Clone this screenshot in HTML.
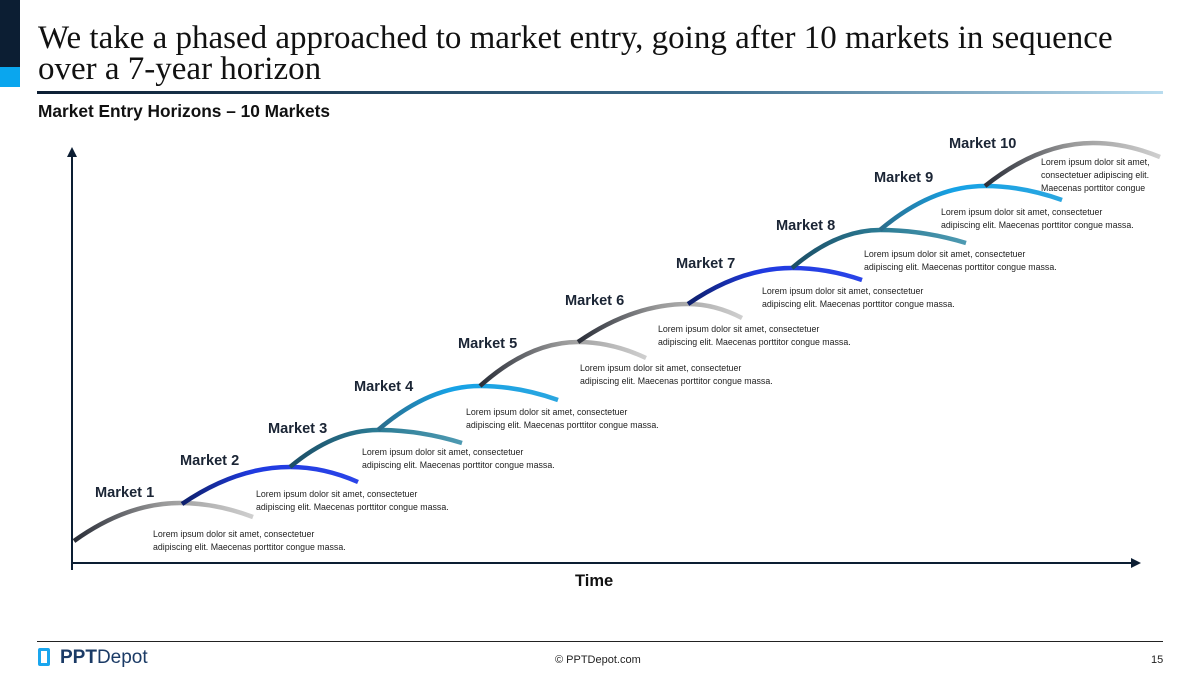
<!DOCTYPE html>
<html><head><meta charset="utf-8"><style>
body{margin:0;width:1200px;height:677px;background:#fff;overflow:hidden;font-family:"Liberation Sans",sans-serif;position:relative}
.t{position:absolute;left:38px;top:23px;font-family:"Liberation Serif",serif;font-size:33px;line-height:31px;color:#111;white-space:nowrap}
.sub{position:absolute;left:38px;top:101px;font-weight:bold;font-size:17.3px;color:#111}
.m{position:absolute;font-weight:bold;font-size:14.6px;color:#1b2535}
.d{position:absolute;font-size:8.8px;line-height:13px;color:#222;white-space:nowrap}
</style></head><body>
<div style="position:absolute;left:0;top:0;width:20px;height:67px;background:#0c1e33"></div>
<div style="position:absolute;left:0;top:67px;width:20px;height:20px;background:#0aa6ee"></div>
<div class="t">We take a phased approached to market entry, going after 10 markets in sequence<br>over a 7-year horizon</div>
<div style="position:absolute;left:37px;top:91px;width:1126px;height:3px;background:linear-gradient(90deg,#0c1e33,#3c6c8c 60%,#b9dcef)"></div>
<div class="sub">Market Entry Horizons – 10 Markets</div>
<svg style="position:absolute;left:0;top:0" width="1200" height="677">
<defs>
<linearGradient id="g" x1="0" x2="1"><stop offset="0" stop-color="#2a2e38"/><stop offset=".5" stop-color="#9a9a9a"/><stop offset="1" stop-color="#cfcfcf"/></linearGradient>
<linearGradient id="b" x1="0" x2="1"><stop offset="0" stop-color="#0d1f6a"/><stop offset=".4" stop-color="#1f3ae0"/><stop offset="1" stop-color="#2a44e8"/></linearGradient>
<linearGradient id="c" x1="0" x2="1"><stop offset="0" stop-color="#1b4e66"/><stop offset=".5" stop-color="#2b7b94"/><stop offset="1" stop-color="#4e9ab2"/></linearGradient>
<linearGradient id="l" x1="0" x2="1"><stop offset="0" stop-color="#2a6c8a"/><stop offset=".4" stop-color="#16a2e6"/><stop offset="1" stop-color="#2aa6e0"/></linearGradient>
<marker id="a" markerWidth="5" markerHeight="5" refX="2.5" refY="2.5" orient="auto"><path d="M0,0 L5,2.5 L0,5z" fill="#0c1e33"/></marker>
</defs>
<line x1="72" y1="570" x2="72" y2="152" stroke="#0c1e33" stroke-width="2" marker-end="url(#a)"/>
<line x1="72" y1="563" x2="1136" y2="563" stroke="#0c1e33" stroke-width="2" marker-end="url(#a)"/>
<g fill="none" stroke-width="4.5" stroke-linecap="butt">
<path d="M74,541 Q127,503 180,503 Q216,503 253,517" stroke="url(#g)"/>
<path d="M182,504 Q236,467 290,467 Q324,467 358,482" stroke="url(#b)"/>
<path d="M290,467 Q334,430 378,430 Q420,430 462,443" stroke="url(#c)"/>
<path d="M378,430 Q429,386 480,386 Q519,386 558,400" stroke="url(#l)"/>
<path d="M480,386 Q529,342 578,342 Q612,342 646,358" stroke="url(#g)"/>
<path d="M578,342 Q633,304 688,304 Q715,304 742,318" stroke="url(#g)"/>
<path d="M688,304 Q740,268 792,268 Q827,268 862,280" stroke="url(#b)"/>
<path d="M792,268 Q836,230 880,230 Q923,230 966,243" stroke="url(#c)"/>
<path d="M880,230 Q932,186 985,186 Q1023,186 1062,200" stroke="url(#l)"/>
<path d="M985,186 Q1039,143 1093,143 Q1126,143 1160,157" stroke="url(#g)"/>
</g>
</svg>
<div class="m" style="left:95px;top:485px">Market 1</div>
<div class="m" style="left:180px;top:453px">Market 2</div>
<div class="m" style="left:268px;top:421px">Market 3</div>
<div class="m" style="left:354px;top:379px">Market 4</div>
<div class="m" style="left:458px;top:336px">Market 5</div>
<div class="m" style="left:565px;top:293px">Market 6</div>
<div class="m" style="left:676px;top:256px">Market 7</div>
<div class="m" style="left:776px;top:218px">Market 8</div>
<div class="m" style="left:874px;top:170px">Market 9</div>
<div class="m" style="left:949px;top:136px">Market 10</div>
<div class="d" style="left:153px;top:528px">Lorem ipsum dolor sit amet, consectetuer<br>adipiscing elit. Maecenas porttitor congue massa.</div>
<div class="d" style="left:256px;top:488px">Lorem ipsum dolor sit amet, consectetuer<br>adipiscing elit. Maecenas porttitor congue massa.</div>
<div class="d" style="left:362px;top:446px">Lorem ipsum dolor sit amet, consectetuer<br>adipiscing elit. Maecenas porttitor congue massa.</div>
<div class="d" style="left:466px;top:406px">Lorem ipsum dolor sit amet, consectetuer<br>adipiscing elit. Maecenas porttitor congue massa.</div>
<div class="d" style="left:580px;top:362px">Lorem ipsum dolor sit amet, consectetuer<br>adipiscing elit. Maecenas porttitor congue massa.</div>
<div class="d" style="left:658px;top:323px">Lorem ipsum dolor sit amet, consectetuer<br>adipiscing elit. Maecenas porttitor congue massa.</div>
<div class="d" style="left:762px;top:285px">Lorem ipsum dolor sit amet, consectetuer<br>adipiscing elit. Maecenas porttitor congue massa.</div>
<div class="d" style="left:864px;top:248px">Lorem ipsum dolor sit amet, consectetuer<br>adipiscing elit. Maecenas porttitor congue massa.</div>
<div class="d" style="left:941px;top:206px">Lorem ipsum dolor sit amet, consectetuer<br>adipiscing elit. Maecenas porttitor congue massa.</div>
<div class="d" style="left:1041px;top:156px">Lorem ipsum dolor sit amet,<br>consectetuer adipiscing elit.<br>Maecenas porttitor congue</div>
<div style="position:absolute;left:575px;top:572px;font-weight:bold;font-size:16.5px;color:#111">Time</div>
<div style="position:absolute;left:37px;top:641px;width:1126px;height:1px;background:#222"></div>
<div style="position:absolute;left:38px;top:648px;width:12px;height:18px;border:3px solid #1aa6ee;border-radius:2px;box-sizing:border-box"></div>
<div style="position:absolute;left:60px;top:647px;font-size:19px;color:#1b3b66"><b>PPT</b>Depot</div>
<div style="position:absolute;left:555px;top:654px;font-size:11px;color:#222">© PPTDepot.com</div>
<div style="position:absolute;left:1151px;top:654px;font-size:11px;color:#222">15</div>
</body></html>
